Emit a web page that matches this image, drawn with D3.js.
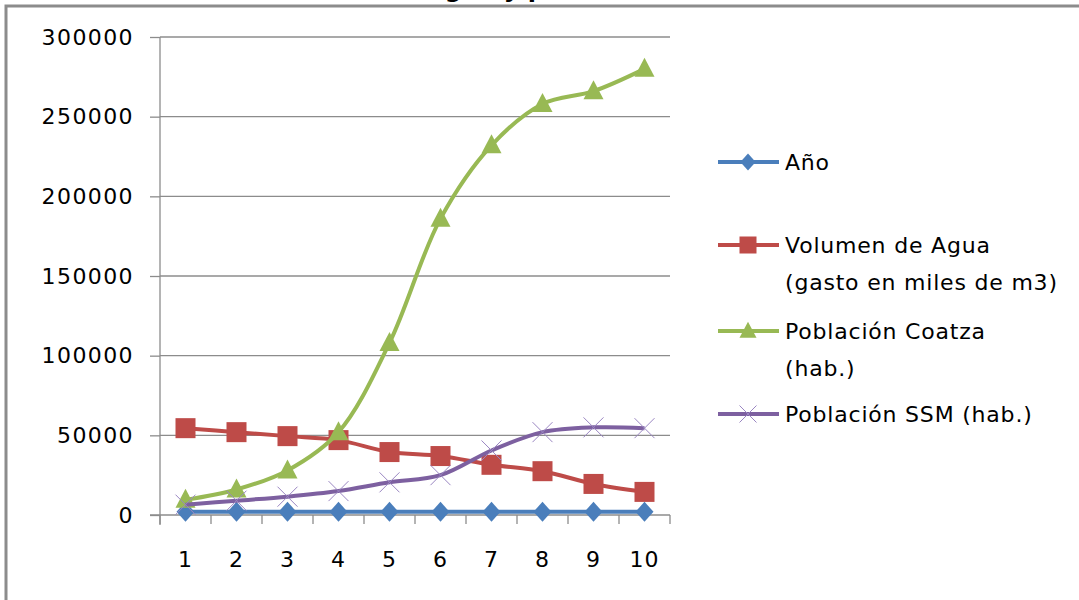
<!DOCTYPE html>
<html>
<head>
<meta charset="utf-8">
<script src="https://cdn.jsdelivr.net/npm/d3@7/dist/d3.min.js"></script>
<style>
  html, body { margin: 0; padding: 0; background: #fff; }
  svg { display: block; }
  text { font-family: "DejaVu Sans", sans-serif; fill: #000; }
</style>
</head>
<body>
<svg id="chart" width="1079" height="600"></svg>
<script>
// Categories along the x axis
const categories = ["1", "2", "3", "4", "5", "6", "7", "8", "9", "10"];

// Series values
const anio = [1998, 1999, 2000, 2001, 2002, 2003, 2004, 2005, 2006, 2007];
const volumenAgua = [54500, 52000, 49500, 47000, 39500, 37000, 31500, 27500, 19500, 14500];
const poblacionCoatza = [9500, 16000, 28000, 52000, 108000, 186000, 232000, 258000, 266000, 280000];
const poblacionSSM = [6500, 9000, 11500, 15000, 20500, 25000, 40500, 52000, 55000, 54500];

// Y axis ticks
const yTicks = [0, 50000, 100000, 150000, 200000, 250000, 300000];

const series = [
  { name: ["Año"], values: anio, color: "#4A7EBB", marker: "diamond" },
  { name: ["Volumen de Agua", "(gasto en miles de m3)"], values: volumenAgua, color: "#BE4B48", marker: "square" },
  { name: ["Población Coatza", "(hab.)"], values: poblacionCoatza, color: "#98B954", marker: "triangle" },
  { name: ["Población SSM (hab.)"], values: poblacionSSM, color: "#7D60A0", marker: "cross" }
];

const svg = d3.select("#chart");

// Chart title (sits above the frame)
svg.append("text")
  .attr("x", 460).attr("y", -3)
  .attr("text-anchor", "middle")
  .style("font-weight", "bold")
  .style("font-size", "24px")
  .text("Volumen de agua y población");

// Outer frame
svg.append("path")
  .attr("d", "M6,600 V6 H1079")
  .attr("fill", "none")
  .attr("stroke", "#8c8c8c")
  .attr("stroke-width", 3);

const plotLeft = 160, plotRight = 670, plotTop = 37, plotBottom = 515;

const x = d3.scaleBand().domain(categories).range([plotLeft, plotRight]);
const y = d3.scaleLinear().domain([0, 300000]).range([plotBottom, plotTop]);

// Gridlines
svg.append("g")
  .selectAll("line")
  .data(yTicks.filter(d => d > 0))
  .join("line")
  .attr("x1", plotLeft).attr("x2", plotRight)
  .attr("y1", d => y(d)).attr("y2", d => y(d))
  .attr("stroke", "#8c8c8c").attr("stroke-width", 1.3);

// Y axis
const yAxis = svg.append("g")
  .attr("transform", `translate(${plotLeft},0)`)
  .call(d3.axisLeft(y).tickValues(yTicks).tickFormat(d3.format("d")).tickSize(10).tickPadding(16));
yAxis.select(".domain").attr("stroke", "#8c8c8c").attr("stroke-width", 1.3)
  .attr("d", `M0,${plotBottom + 10}V${plotTop}`);
yAxis.selectAll(".tick line").attr("stroke", "#8c8c8c").attr("stroke-width", 1.3);
yAxis.selectAll("text").style("font-size", "22px").style("font-family", "DejaVu Sans")
  .style("letter-spacing", "1.4px").attr("fill", "#000");

// X axis with ticks between categories
const xAxis = svg.append("g")
  .attr("transform", `translate(0,${plotBottom})`)
  .call(d3.axisBottom(x).tickSize(0).tickPadding(36));
xAxis.select(".domain").attr("stroke", "#8c8c8c").attr("stroke-width", 1.3)
  .attr("d", `M${plotLeft - 10},0H${plotRight}`);
xAxis.selectAll("text").style("font-size", "22px").style("font-family", "DejaVu Sans")
  .style("letter-spacing", "1px").attr("fill", "#000");
xAxis.append("g")
  .selectAll("line")
  .data(categories.map(c => x(c)).concat([plotRight]))
  .join("line")
  .attr("x1", d => d).attr("x2", d => d)
  .attr("y1", 0).attr("y2", 9)
  .attr("stroke", "#8c8c8c").attr("stroke-width", 1.3);

const cx = c => x(c) + x.bandwidth() / 2;

function drawMarker(g, type, color, px, py, k) {
  if (type === "diamond") {
    g.append("path").attr("d", `M${px},${py - 10 * k}L${px + 9 * k},${py}L${px},${py + 10 * k}L${px - 9 * k},${py}Z`).attr("fill", color);
  } else if (type === "square") {
    g.append("rect").attr("x", px - 10 * k).attr("y", py - 10 * k).attr("width", 20 * k).attr("height", 20 * k).attr("fill", color);
  } else if (type === "triangle") {
    g.append("path").attr("d", `M${px},${py - 11 * k}L${px + 10 * k},${py + 8 * k}L${px - 10 * k},${py + 8 * k}Z`).attr("fill", color);
  } else if (type === "cross") {
    g.append("path").attr("d", `M${px - 10 * k},${py - 10 * k}L${px + 10 * k},${py + 10 * k}M${px - 10 * k},${py + 10 * k}L${px + 10 * k},${py - 10 * k}`)
      .attr("stroke", "#9a86c2").attr("stroke-width", 1).attr("fill", "none");
  }
}

const line = d3.line()
  .x((d, i) => cx(categories[i]))
  .y(d => y(d))
  .curve(d3.curveCatmullRom.alpha(0.5));

// Later series are drawn on top
series.forEach(s => {
  const g = svg.append("g");
  g.append("path")
    .datum(s.values)
    .attr("d", line)
    .attr("fill", "none")
    .attr("stroke", s.color)
    .attr("stroke-width", 4);
  s.values.forEach((v, i) => drawMarker(g, s.marker, s.color, cx(categories[i]), y(v), 1));
});

// Legend
const legendY = [162, 245, 331, 414];
series.forEach((s, i) => {
  const g = svg.append("g");
  const ly = legendY[i];
  g.append("line").attr("x1", 718).attr("x2", 779).attr("y1", ly).attr("y2", ly)
    .attr("stroke", s.color).attr("stroke-width", 4);
  drawMarker(g, s.marker, s.color, 748, ly, 0.85);
  s.name.forEach((t, j) => {
    g.append("text")
      .attr("x", 785).attr("y", ly + 8 + j * 37)
      .style("font-size", "22px")
      .style("letter-spacing", "0.8px")
      .text(t);
  });
});
</script>
</body>
</html>
